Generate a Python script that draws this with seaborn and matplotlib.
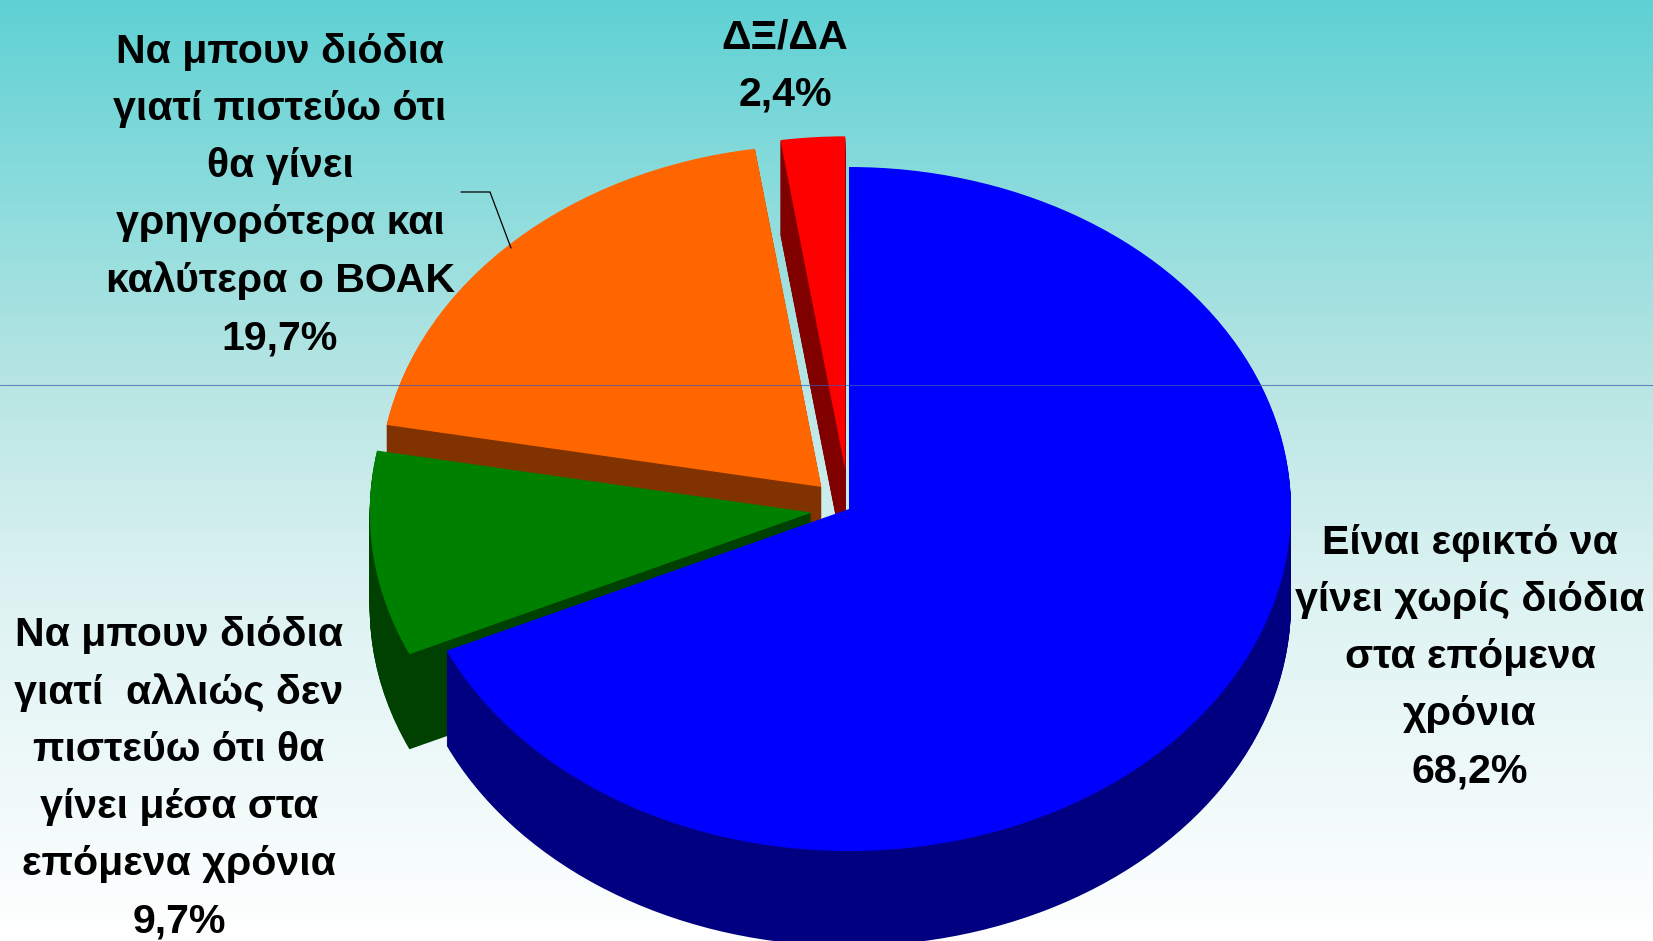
import numpy as np
import matplotlib
matplotlib.use("Agg")
import matplotlib.pyplot as plt
from matplotlib.colors import LinearSegmentedColormap
import seaborn as sns

# slices, clockwise from 12 o'clock
shares = [68.2, 9.7, 19.7, 2.4]
explode = [0, 0.085, 0.09, 0.115]
radii = [1, 1, 1, 0.975]
top_colors = ["#0000FF", "#008000", "#FF6600", "#FF0000"]
side_colors = ["#000080", "#004000", "#803300", "#800000"]
labels = [
    "Είναι εφικτό να\nγίνει χωρίς διόδια\nστα επόμενα\nχρόνια\n68,2%",
    "Να μπουν διόδια\nγιατί  αλλιώς δεν\nπιστεύω ότι θα\nγίνει μέσα στα\nεπόμενα χρόνια\n9,7%",
    "Να μπουν διόδια\nγιατί πιστεύω ότι\nθα γίνει\nγρηγορότερα και\nκαλύτερα ο ΒΟΑΚ\n19,7%",
    "ΔΞ/ΔΑ\n2,4%",
]
label_x = [1470, 179, 280, 785]
label_y = [657, 778, 195, 66]

bg_stops = [(0.0, "#5FD1D4"), (0.41, "#B8E6E4"), (0.62, "#DCF2F2"), (1.0, "#FFFFFF")]

W, H = 1653, 941
CX, CY = 849, 509    # pie centre in pixels
RX, RY = 442, 342    # ellipse radii in pixels
DEPTH = 95

sns.set_theme(style="white")
plt.rcParams["font.family"] = ["Liberation Sans", "DejaVu Sans"]

fig = plt.figure(figsize=(W / 100, H / 100), dpi=100)

# background gradient
bg_ax = fig.add_axes([0, 0, 1, 1], zorder=0)
cmap = LinearSegmentedColormap.from_list("bg", bg_stops)
bg_ax.imshow(np.linspace(0, 1, 512).reshape(-1, 1), cmap=cmap, aspect="auto", vmin=0, vmax=1)
bg_ax.axis("off")

pie_ax = fig.add_axes([0, 0, 1, 1], zorder=1)
pie_ax.patch.set_visible(False)


def draw_slice(idx, color, yshift):
    wedges, _ = pie_ax.pie(
        shares, explode=explode, startangle=90, counterclock=False,
        center=(0, yshift), radius=radii[idx], colors=[color] * len(shares),
        wedgeprops={"linewidth": 0},
    )
    for i, w in enumerate(wedges):
        if i != idx:
            w.remove()


# back slices first, each one extruded downward and then capped
for idx in [3, 2, 1, 0]:
    for k in range(DEPTH, 0, -1):
        draw_slice(idx, side_colors[idx], -k / RY)
    draw_slice(idx, top_colors[idx], 0)

pie_ax.set_aspect("auto")
pie_ax.set_xlim(-CX / RX, (W - CX) / RX)
pie_ax.set_ylim((CY - H) / RY, CY / RY)
pie_ax.axis("off")

# overlay in pixel coordinates: rule, leader line, labels
top_ax = fig.add_axes([0, 0, 1, 1], zorder=2)
top_ax.patch.set_visible(False)
top_ax.set_xlim(0, W)
top_ax.set_ylim(H, 0)
top_ax.axis("off")
top_ax.axhline(385, color="#3C5AAF", lw=0.8, alpha=0.7)
top_ax.plot([461, 490, 511], [192, 192, 248], color="black", lw=0.9)

for txt, x, y in zip(labels, label_x, label_y):
    top_ax.text(x, y, txt, ha="center", va="center", fontsize=29.6, fontweight="bold",
                color="black", linespacing=1.635)

fig.savefig("out.png", dpi=100)
